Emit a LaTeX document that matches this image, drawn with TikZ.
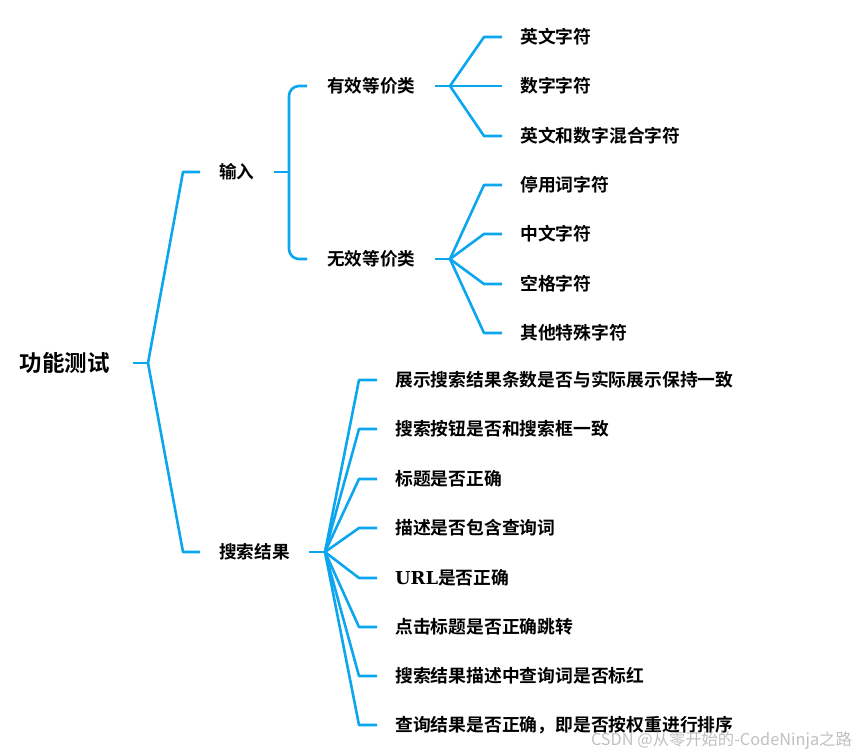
\documentclass[tikz,border=0pt]{standalone}
\usepackage{fontspec}
\setmainfont{Noto Sans CJK SC}[BoldFont={Noto Sans CJK SC Bold}]
\newfontfamily\urlfont{DejaVu Serif}[BoldFont={DejaVu Serif Bold}]
\definecolor{linkblue}{RGB}{12,166,238}
\definecolor{wmgray}{RGB}{192,192,192}
\tikzset{
  conn/.style={draw=linkblue, line width=2.6pt, line join=round},
  rootbox/.style={font=\bfseries\fontsize{22.5}{26}\selectfont, inner xsep=23pt, inner ysep=2pt, anchor=east},
  midbox/.style={font=\bfseries\fontsize{17.6}{21}\selectfont, inner xsep=19pt, inner ysep=2pt, anchor=west},
  catbox/.style={font=\bfseries\fontsize{17.6}{21}\selectfont, inner xsep=20pt, inner ysep=2pt, anchor=west},
  leafbox/.style={font=\bfseries\fontsize{17.8}{21}\selectfont, inner xsep=18pt, inner ysep=2pt, anchor=west},
  wmark/.style={font=\fontsize{16.3}{19}\selectfont, text=wmgray, inner sep=0pt, anchor=east}
}
\begin{document}
\begin{tikzpicture}[x=1pt,y=1pt]
\useasboundingbox (0,0) rectangle (857,-755);
% nodes
\node[rootbox] (root) at (133,-363) {功能测试};
\node[midbox] (inp) at (200,-172) {输入};
\node[midbox] (res) at (200,-552) {搜索结果};
\node[catbox] (val) at (307,-86) {有效等价类};
\node[catbox] (inv) at (307,-259) {无效等价类};
% input leaves
\node[leafbox] (v1) at (502,-37) {英文字符};
\node[leafbox] (v2) at (502,-86) {数字字符};
\node[leafbox] (v3) at (502,-136) {英文和数字混合字符};
\node[leafbox] (i1) at (502,-185) {停用词字符};
\node[leafbox] (i2) at (502,-234) {中文字符};
\node[leafbox] (i3) at (502,-284) {空格字符};
\node[leafbox] (i4) at (502,-333) {其他特殊字符};
% search leaves
\node[leafbox] (s1) at (377,-380) {展示搜索结果条数是否与实际展示保持一致};
\node[leafbox] (s2) at (377,-429) {搜索按钮是否和搜索框一致};
\node[leafbox] (s3) at (377,-479) {标题是否正确};
\node[leafbox] (s4) at (377,-528) {描述是否包含查询词};
\node[leafbox] (s5) at (377,-578) {{\urlfont\bfseries URL}是否正确};
\node[leafbox] (s6) at (377,-627) {点击标题是否正确跳转};
\node[leafbox] (s7) at (377,-676) {搜索结果描述中查询词是否标红};
\node[leafbox] (s8) at (377,-725) {查询结果是否正确，即是否按权重进行排序};
% watermark
\node[wmark] (wm) at (852,-741) {CSDN @从零开始的-CodeNinja之路};
% junction coordinates
\coordinate (rj) at (148,-363);
\coordinate (ij) at (289,-172);
\coordinate (vj) at (450,-86);
\coordinate (nj) at (450,-259);
\coordinate (sj) at (325,-552);
% root connectors
\draw[conn] (root.east) -- (rj);
\draw[conn] (rj) -- ([xshift=-17pt]inp.west) -- (inp.west);
\draw[conn] (rj) -- ([xshift=-17pt]res.west) -- (res.west);
% input bracket
\draw[conn] (inp.east) -- (ij);
\draw[conn, rounded corners=10pt] (val.west) -| (ij) |- (inv.west);
% valid leaves
\draw[conn] (val.east) -- (vj);
\foreach \n in {v1,v2,v3} \draw[conn] (vj) -- ([xshift=-18pt]\n.west) -- (\n.west);
% invalid leaves
\draw[conn] (inv.east) -- (nj);
\foreach \n in {i1,i2,i3,i4} \draw[conn] (nj) -- ([xshift=-18pt]\n.west) -- (\n.west);
% search leaves
\draw[conn] (res.east) -- (sj);
\foreach \n in {s1,s2,s3,s4,s5,s6,s7,s8} \draw[conn] (sj) -- ([xshift=-18pt]\n.west) -- (\n.west);
\end{tikzpicture}
\end{document}
